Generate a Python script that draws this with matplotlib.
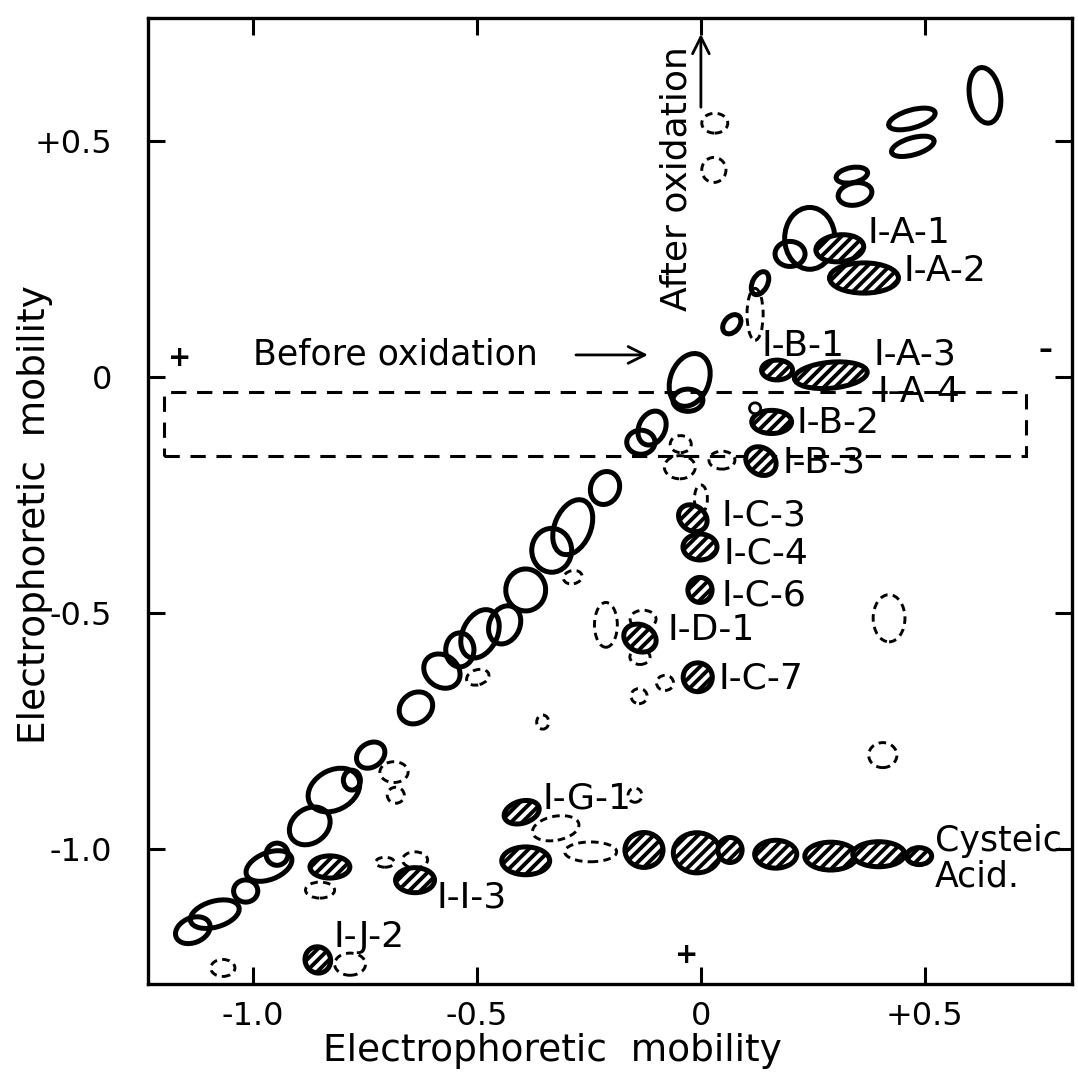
import matplotlib
matplotlib.use("Agg")
import matplotlib.pyplot as plt
from matplotlib.patches import Ellipse, Rectangle

plt.rcParams['font.family'] = 'DejaVu Sans'
plt.rcParams['hatch.linewidth'] = 2.8

# open (unstained) spots: centre, size, tilt
open_x = [0.634, 0.471, 0.473, 0.337, 0.344, 0.243, 0.199, 0.132, 0.069,
          -0.025, -0.029, -0.109, -0.134, -0.214, -0.286, -0.333, -0.391,
          -0.438, -0.493, -0.538, -0.578, -0.636, -0.737, -0.819, -0.779,
          -0.873, -0.946, -0.964, -1.016, -1.085, -1.134]
open_y = [0.597, 0.547, 0.489, 0.428, 0.388, 0.294, 0.261, 0.199, 0.112,
          -0.006, -0.049, -0.108, -0.138, -0.235, -0.318, -0.367, -0.451,
          -0.525, -0.544, -0.578, -0.623, -0.701, -0.801, -0.875, -0.854,
          -0.951, -1.011, -1.036, -1.089, -1.138, -1.172]
open_w = [0.069, 0.107, 0.098, 0.071, 0.076, 0.112, 0.067, 0.033, 0.033,
          0.085, 0.067, 0.058, 0.063, 0.063, 0.080, 0.089, 0.089,
          0.067, 0.076, 0.063, 0.085, 0.078, 0.067, 0.121, 0.038,
          0.096, 0.049, 0.107, 0.054, 0.112, 0.080]
open_h = [0.119, 0.038, 0.036, 0.032, 0.047, 0.131, 0.053, 0.053, 0.047,
          0.117, 0.047, 0.076, 0.051, 0.072, 0.123, 0.093, 0.089,
          0.085, 0.110, 0.072, 0.068, 0.064, 0.051, 0.085, 0.042,
          0.074, 0.047, 0.057, 0.047, 0.055, 0.053]
open_ang = [10, 15, 15, 10, 10, 0, 0, -30, -45,
            -25, 0, -30, 0, -30, -25, 0, -35,
            -30, -30, 0, -30, 30, 30, 25, 0,
            30, 0, 20, 0, 15, 20]

# dashed (faint) spots
dash_x = [0.031, 0.029, 0.121, -0.045, -0.047, 0.047, 0.000, -0.498, -0.286,
          -0.212, -0.129, -0.136, -0.080, -0.138, -0.353, 0.420, 0.406,
          -0.685, -0.681, -0.705, -0.638, -0.850, -1.067, -0.783, -0.324,
          -0.246, -0.147]
dash_y = [0.538, 0.439, 0.133, -0.142, -0.191, -0.176, -0.258, -0.636, -0.424,
          -0.525, -0.513, -0.593, -0.648, -0.676, -0.731, -0.511, -0.801,
          -0.837, -0.886, -1.028, -1.023, -1.087, -1.252, -1.244, -0.956,
          -1.006, -0.886]
dash_w = [0.058, 0.054, 0.036, 0.047, 0.069, 0.058, 0.029, 0.051, 0.042,
          0.051, 0.058, 0.045, 0.038, 0.036, 0.027, 0.071, 0.063,
          0.063, 0.038, 0.042, 0.056, 0.065, 0.054, 0.069, 0.105,
          0.116, 0.031]
dash_h = [0.042, 0.053, 0.110, 0.036, 0.049, 0.038, 0.059, 0.032, 0.028,
          0.095, 0.038, 0.032, 0.032, 0.032, 0.030, 0.100, 0.053,
          0.044, 0.034, 0.021, 0.034, 0.034, 0.036, 0.047, 0.051,
          0.042, 0.030]
dash_ang = [0, 0, 0, 0, 0, 0, 0, 15, 10,
            0, 0, 0, 0, 0, 0, 0, 0,
            0, 0, 0, 0, 0, 0, 0, 10,
            0, 0]

# hatched (peptides containing cysteic acid)
hatch_x = [0.310, 0.364, 0.170, 0.290, 0.158, 0.134, -0.018, -0.002, -0.002,
           -0.136, -0.007, -0.400, -0.391, -0.127, -0.009, 0.065, 0.167,
           0.290, 0.397, 0.487, -0.828, -0.638, -0.855]
hatch_y = [0.273, 0.210, 0.015, 0.004, -0.095, -0.178, -0.299, -0.360, -0.451,
           -0.553, -0.636, -0.922, -1.025, -1.002, -1.008, -1.002, -1.011,
           -1.015, -1.011, -1.015, -1.038, -1.066, -1.235]
hatch_w = [0.107, 0.154, 0.069, 0.163, 0.089, 0.071, 0.067, 0.076, 0.054,
           0.074, 0.065, 0.080, 0.107, 0.085, 0.105, 0.054, 0.094,
           0.116, 0.116, 0.056, 0.089, 0.087, 0.058]
hatch_h = [0.057, 0.064, 0.042, 0.055, 0.049, 0.057, 0.053, 0.055, 0.053,
           0.057, 0.061, 0.047, 0.059, 0.074, 0.085, 0.053, 0.059,
           0.059, 0.053, 0.036, 0.047, 0.053, 0.055]
hatch_ang = [5, 0, 0, 5, 0, -30, -30, 0, 0,
             -20, 0, 15, 0, 0, 0, 0, 0,
             0, 0, 0, 0, 0, -30]

spot_names = ['I-A-1', 'I-A-2', 'I-B-1', 'I-A-3', 'I-A-4', 'I-B-2', 'I-B-3',
              'I-C-3', 'I-C-4', 'I-C-6', 'I-D-1', 'I-C-7', 'I-G-1', 'I-I-3',
              'I-J-2']
name_x = [0.373, 0.453, 0.136, 0.386, 0.395, 0.214, 0.183,
          0.045, 0.051, 0.045, -0.074, 0.040, -0.353, -0.589, -0.821]
name_y = [0.305, 0.225, 0.066, 0.047, -0.032, -0.097, -0.180,
          -0.294, -0.373, -0.462, -0.536, -0.638, -0.892, -1.102, -1.186]

ticks = [-1.0, -0.5, 0.0, 0.5]
xtick_labels = ['-1.0', '-0.5', '0', '+0.5']
ytick_labels = ['-1.0', '-0.5', '0', '+0.5']

fig = plt.figure(figsize=(10.78, 10.76), dpi=100)
ax = fig.add_axes([0.1373, 0.0855, 0.857, 0.8978])
ax.set_xlim(-1.234, 0.828)
ax.set_ylim(-1.286, 0.761)

for x, y, w, h, a in zip(open_x, open_y, open_w, open_h, open_ang):
    ax.add_patch(Ellipse((x, y), w, h, angle=a, facecolor='none',
                         edgecolor='black', lw=3.6, zorder=2))

# tiny marker spot next to I-B-2
ax.add_patch(Ellipse((0.121, -0.066), 0.025, 0.023, facecolor='white',
                     edgecolor='black', lw=2, zorder=4))

for x, y, w, h, a in zip(dash_x, dash_y, dash_w, dash_h, dash_ang):
    ax.add_patch(Ellipse((x, y), w, h, angle=a, facecolor='none',
                         edgecolor='black', lw=2.1, linestyle=(0, (2.6, 1.8)),
                         zorder=2))

for x, y, w, h, a in zip(hatch_x, hatch_y, hatch_w, hatch_h, hatch_ang):
    ax.add_patch(Ellipse((x, y), w, h, angle=a, facecolor='white',
                         edgecolor='black', hatch='///', lw=3.6, zorder=3))

for name, x, y in zip(spot_names, name_x, name_y):
    ax.text(x, y, name, fontsize=26, ha='left', va='center', zorder=5)

ax.text(0.522, -1.021, 'Cysteic\nAcid.', fontsize=25, ha='left',
        va='center', linespacing=1.05)

# region of the first dimension strip
ax.add_patch(Rectangle((-1.199, -0.167), 1.924, 0.135, facecolor='none',
                       edgecolor='black', lw=2.2, linestyle=(0, (5, 3.5)),
                       zorder=1))

ax.text(-1.0, 0.047, 'Before oxidation', fontsize=25, ha='left',
        va='center')
ax.annotate('', xy=(-0.112, 0.047), xytext=(-0.285, 0.047),
            arrowprops=dict(arrowstyle='->', lw=2, mutation_scale=30))
ax.text(-0.054, 0.42, 'After oxidation', fontsize=26, rotation=90,
        ha='center', va='center')
ax.annotate('', xy=(0.0, 0.733), xytext=(0.0, 0.566),
            arrowprops=dict(arrowstyle='->', lw=2, mutation_scale=30))

ax.text(-1.163, 0.040, '+', fontsize=20, ha='center', va='center',
        fontweight='bold')
ax.text(0.768, 0.057, '\u2013', fontsize=20, ha='center', va='center',
        fontweight='bold')
ax.text(-0.031, -1.225, '+', fontsize=20, ha='center', va='center',
        fontweight='bold')

ax.set_xticks(ticks)
ax.set_xticklabels(xtick_labels)
ax.set_yticks(ticks)
ax.set_yticklabels(ytick_labels)
ax.tick_params(direction='in', length=12, width=2.2, top=True, right=True,
               labelsize=23)
ax.tick_params(axis='y', pad=26)
ax.tick_params(axis='x', pad=12)
for s in ax.spines.values():
    s.set_linewidth(2.4)

ax.set_xlabel('Electrophoretic  mobility', fontsize=27)
ax.set_ylabel('Electrophoretic  mobility', fontsize=27)
ax.xaxis.set_label_coords(0.438, -0.051)
ax.yaxis.set_label_coords(-0.103, 0.486)

fig.savefig('out.png', dpi=100)
